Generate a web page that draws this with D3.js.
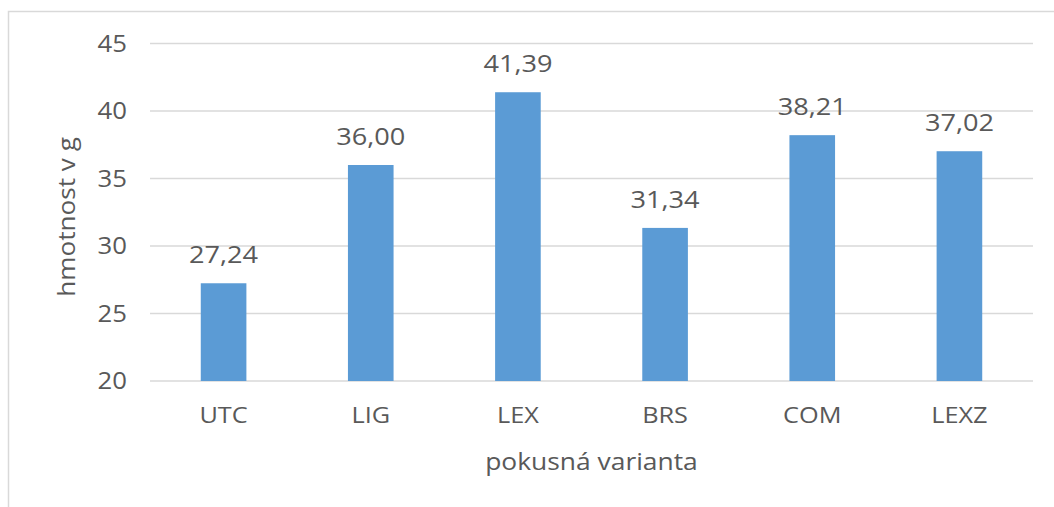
<!DOCTYPE html>
<html><head><meta charset="utf-8">
<script src="https://cdn.jsdelivr.net/npm/d3@7"></script>
<style>body{margin:0;background:#fff}svg{display:block}text{font-family:"Open Sans",sans-serif;fill:#595959}</style>
</head><body><svg id="c" width="1054" height="507"></svg>
<script>
const categories = ["UTC","LIG","LEX","BRS","COM","LEXZ"];
const values = [27.24,36.00,41.39,31.34,38.21,37.02];
const yTicks = [20,25,30,35,40,45];
const yTitle = "hmotnost v g";
const xTitle = "pokusná varianta";

const svg = d3.select("#c");
const W = 1054, H = 507;
const m = {left:150, right:21, top:43.5, bottom:126};
svg.append("rect").attr("x",8.5).attr("y",11.5).attr("width",1100).attr("height",600)
  .attr("fill","#fff").attr("stroke","#d9d9d9").attr("stroke-width",1.5);

const x = d3.scaleBand().domain(categories).range([m.left, W-m.right]).paddingInner(0.69).paddingOuter(0.345);
const y = d3.scaleLinear().domain([20,45]).range([H-m.bottom, m.top]);
const fmt = v => d3.format(".2f")(v).replace(".", ",");

svg.append("g").selectAll("line").data(yTicks).join("line")
  .attr("x1",m.left).attr("x2",W-m.right)
  .attr("y1",d=>y(d)).attr("y2",d=>y(d))
  .attr("stroke","#d9d9d9").attr("stroke-width",1.5);

// y tick labels
svg.append("g").selectAll("text").data(yTicks).join("text")
  .attr("transform",d=>`translate(${m.left-23},${y(d)}) scale(1.12,1)`)
  .attr("text-anchor","end").attr("dy","0.36em").attr("font-size",23).text(d=>d);

svg.append("g").selectAll("rect").data(values).join("rect")
  .attr("x",(d,i)=>x(categories[i])).attr("width",x.bandwidth())
  .attr("y",d=>y(d)).attr("height",d=>y(20)-y(d)).attr("fill","#5b9bd5");

svg.append("g").selectAll("text").data(values).join("text")
  .attr("transform",(d,i)=>`translate(${x(categories[i])+x.bandwidth()/2},${y(d)-20}) scale(1.18,1)`)
  .attr("text-anchor","middle").attr("font-size",23).text(d=>fmt(d));

// category labels
svg.append("g").selectAll("text").data(categories).join("text")
  .attr("transform",d=>`translate(${x(d)+x.bandwidth()/2},${y(20)+42}) scale(1.15,1)`)
  .attr("text-anchor","middle").attr("font-size",22).text(d=>d);

svg.append("text").attr("transform",`translate(${(m.left+W-m.right)/2},470) scale(1.1,1)`).attr("text-anchor","middle")
  .attr("font-size",24).text(xTitle);
svg.append("text").attr("transform","translate(75,217) rotate(-90) scale(1.09,1)").attr("text-anchor","middle")
  .attr("font-size",24).text(yTitle);
</script></body></html>
